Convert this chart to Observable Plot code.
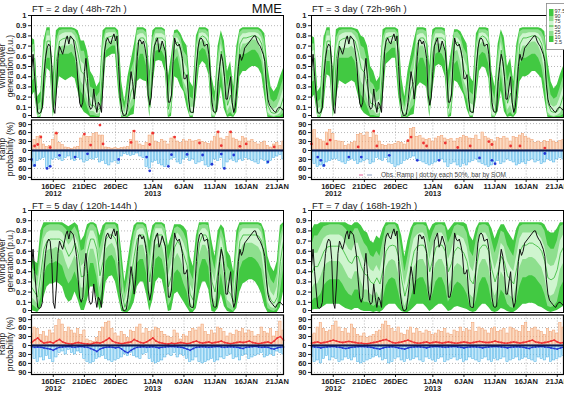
<!DOCTYPE html>
<html><head><meta charset="utf-8">
<script src="https://cdn.jsdelivr.net/npm/d3@7"></script>
<script src="https://cdn.jsdelivr.net/npm/@observablehq/plot@0.6"></script>
<style>
body{margin:0;background:#fff;}
#wrap{position:relative;width:564px;height:409px;overflow:hidden;background:#fff;font-family:"Liberation Sans",Arial,sans-serif;}
#wrap svg{position:absolute;}
</style></head><body><div id="wrap"></div>
<script>
// ---------- time frame ----------
const START = Date.UTC(2012, 11, 12, 12);   // 12 Dec 2012 12UTC
const END = Date.UTC(2013, 0, 22, 0);       // 22 Jan 2013
const tickDates = ["2012-12-16","2012-12-21","2012-12-26","2013-01-01","2013-01-06","2013-01-11","2013-01-16","2013-01-21"];
const tickLabels = ["16DEC\n2012","21DEC","26DEC","1JAN\n2013","6JAN","11JAN","16JAN","21JAN"];
const powerTicks = [0,0.1,0.2,0.3,0.4,0.5,0.6,0.7,0.8,0.9,1];
const probTicks = [-90,-60,-30,0,30,60,90];
const titles = ["FT = 2 day ( 48h-72h )","FT = 3 day ( 72h-96h )","FT = 5 day ( 120h-144h )","FT = 7 day ( 168h-192h )"];
const legendLabels = ["97.5","90","75","50","25","10","2.5"];

// ---------- observed wind power, 6-hourly (p.u.) ----------
const obs = [0.45,0.62,0.40,0.22,0.05,0.04,0.05,0.10,0.40,0.58,
0.68,0.72,0.70,0.52,0.10,0.04,0.25,0.58,0.70,0.66,
0.62,0.68,0.76,0.80,0.72,0.80,0.78,0.76,0.66,0.55,
0.32,0.14,0.10,0.15,0.45,0.58,0.38,0.12,0.08,0.10,
0.28,0.15,0.05,0.15,0.12,0.05,0.35,0.65,0.75,0.78,
0.74,0.72,0.78,0.82,0.75,0.80,0.50,0.20,0.08,0.02,
0.02,0.03,0.15,0.30,0.45,0.35,0.18,0.32,0.60,0.76,
0.76,0.72,0.75,0.68,0.58,0.22,0.12,0.20,0.45,0.70,
0.74,0.78,0.64,0.68,0.75,0.70,0.65,0.45,0.15,0.15,
0.22,0.55,0.78,0.72,0.70,0.72,0.66,0.58,0.38,0.38,
0.42,0.18,0.06,0.05,0.05,0.25,0.50,0.68,0.76,0.78,
0.76,0.70,0.71,0.72,0.62,0.40,0.15,0.06,0.05,0.06,
0.35,0.50,0.62,0.55,0.40,0.18,0.18,0.30,0.40,0.15,
0.05,0.10,0.28,0.50,0.62,0.56,0.60,0.68,0.70,0.72,
0.74,0.76,0.78,0.80,0.80,0.75,0.72,0.70,0.66,0.62,
0.55,0.32,0.18,0.12,0.10,0.08,0.06,0.05,0.08,0.10,
0.10,0.08,0.07];

// ---------- ensemble percentiles, 12-hourly (x100 p.u.) ----------
const ft2_p975=[78,76,20,25,75,88,88,40,85,88,88,88,88,88,87,85,75,75,65,45,40,30,35,85,88,88,88,88,85,35,15,40,55,70,88,88,88,86,45,85,88,88,88,86,40,60,85,86,82,75,70,35,30,80,88,88,88,86,40,25,70,85,75,45,55,30,70,86,88,88,88,88,88,88,86,82,50,30,25,30,40,48];
const ft2_p90=[70,72,12,15,65,85,85,20,75,85,86,86,86,86,85,80,65,65,50,30,28,20,25,75,86,86,86,86,80,20,8,25,45,55,85,86,86,83,30,78,86,86,86,84,25,45,82,83,78,65,60,20,18,70,86,86,86,83,25,15,60,80,62,30,42,18,58,83,86,86,86,86,86,86,83,75,35,18,15,18,28,38];
const ft2_p75=[62,65,6,8,55,80,80,10,65,80,82,83,83,83,80,72,55,52,38,20,18,12,15,65,82,83,83,83,72,12,4,15,35,42,80,82,82,78,18,70,82,82,82,80,15,32,78,78,72,55,48,10,10,60,82,83,82,78,15,8,48,72,50,20,30,10,45,78,82,82,83,83,83,82,78,65,22,10,8,10,18,28];
const ft2_p50=[55,58,3,5,45,75,75,5,55,75,77,78,78,78,75,62,45,42,28,12,12,7,9,55,78,79,80,80,62,6,2,8,25,32,72,78,78,72,10,62,78,78,78,75,8,22,72,74,65,45,38,5,5,50,78,80,78,72,8,4,38,65,40,12,22,5,35,72,78,78,79,80,80,78,72,55,12,5,4,5,10,20];
const ft2_p25=[45,48,1,2,35,68,68,2,45,68,70,70,70,72,68,52,35,30,18,6,6,3,4,45,72,74,75,76,52,2,1,3,15,22,62,72,72,62,4,52,72,72,72,68,3,12,65,68,55,35,28,2,2,40,72,76,74,64,3,1,28,55,30,6,12,2,25,64,72,72,74,76,76,72,64,45,5,2,1,2,4,10];
const ft2_p10=[35,38,0,1,25,58,58,1,35,62,62,62,62,64,58,40,25,20,10,2,2,1,1,35,65,68,70,70,40,1,0,1,8,12,50,62,62,50,1,42,65,66,65,58,1,5,55,60,45,28,20,1,1,30,64,68,66,55,1,0,18,45,20,2,5,1,15,55,62,62,64,66,66,62,55,35,2,1,0,1,1,4];
const ft2_p025=[20,25,0,0,12,48,45,0,20,40,38,36,38,40,38,25,10,5,3,0,0,0,0,20,58,60,62,62,25,0,0,0,2,3,35,38,36,35,0,30,55,56,55,45,0,1,40,38,30,25,10,0,0,20,50,55,52,42,0,0,8,30,8,0,1,0,5,40,45,45,48,50,50,48,42,20,0,0,0,0,0,0];

const ft3_p975=[80,78,25,30,78,88,88,45,86,88,88,88,88,88,87,86,80,78,70,50,45,35,40,86,88,88,88,88,86,40,20,45,60,75,88,88,88,87,50,86,88,88,88,87,45,65,86,86,84,78,72,40,35,82,88,88,88,87,45,30,72,86,78,50,58,35,72,87,88,88,88,88,88,88,87,84,55,35,28,32,42,50];
const ft3_p90=[72,72,15,18,68,85,85,25,78,85,86,86,86,86,85,82,70,68,55,35,32,24,28,78,86,86,86,86,82,25,10,30,48,60,85,86,86,84,35,80,86,86,86,84,30,50,83,84,80,68,62,25,22,72,86,86,86,84,30,18,62,82,65,35,45,22,62,84,86,86,86,86,86,86,84,78,40,22,18,20,30,40];
const ft3_p75=[64,66,8,10,58,80,80,14,68,80,82,83,83,83,80,74,58,55,42,24,20,15,18,68,82,83,83,83,74,15,5,18,38,48,80,82,82,78,22,72,82,82,82,80,18,36,78,78,74,58,50,14,12,62,82,83,82,78,18,10,50,74,52,24,32,12,48,78,82,82,83,83,83,82,78,68,25,12,10,12,20,30];
const ft3_p50=[56,58,4,6,48,75,75,7,58,75,77,78,78,78,75,64,48,44,30,14,13,8,10,56,78,79,80,80,64,7,2,10,28,35,72,78,78,72,12,63,78,78,78,75,9,24,72,74,66,47,40,6,6,52,78,80,78,72,9,5,40,66,42,14,24,6,38,72,78,78,79,80,80,78,72,57,14,6,5,6,12,22];
const ft3_p25=[46,48,2,3,36,66,66,3,46,66,68,68,68,70,66,52,35,30,18,7,7,3,4,44,72,74,74,75,52,3,1,4,16,24,60,70,70,60,5,52,72,72,72,66,3,13,64,66,54,36,28,2,2,40,70,74,72,62,3,1,28,54,30,7,12,2,26,62,70,70,72,74,74,70,62,44,5,2,1,2,4,10];
const ft3_p10=[34,36,0,1,24,55,55,1,34,58,58,58,58,60,55,38,22,18,10,2,2,1,1,32,62,65,68,68,38,1,0,1,8,12,48,58,58,48,1,40,62,64,62,55,1,5,52,56,42,26,18,1,1,28,60,64,62,52,1,0,16,42,18,2,5,1,14,52,58,58,60,62,62,58,50,32,2,1,0,1,1,3];
const ft3_p025=[18,22,0,0,10,42,40,0,18,36,34,32,34,36,34,22,8,4,2,0,0,0,0,18,52,55,58,58,22,0,0,0,2,3,30,34,32,30,0,26,50,52,50,40,0,1,36,34,28,22,8,0,0,18,45,50,48,38,0,0,6,26,6,0,1,0,4,35,40,40,42,45,45,42,38,18,0,0,0,0,0,0];

const ft5_p975=[55,50,48,80,88,88,88,88,88,88,88,86,84,86,88,85,70,75,86,88,88,86,75,85,88,88,88,88,86,60,30,50,70,85,88,88,88,86,70,85,88,88,88,86,65,75,86,86,86,84,80,55,45,75,88,88,88,88,70,55,80,86,82,60,55,40,80,88,88,88,88,88,88,88,87,80,55,45,40,50,85,88];
const ft5_p90=[45,40,35,65,82,85,86,86,86,86,85,82,78,80,84,78,60,62,80,86,86,82,62,75,86,86,86,86,80,45,18,35,58,78,86,86,86,82,55,78,86,86,86,82,50,62,82,84,82,78,70,40,32,62,85,86,86,85,55,42,68,82,72,45,40,28,68,85,86,86,86,86,86,86,84,70,42,32,28,38,75,86];
const ft5_p75=[35,30,25,50,72,78,80,80,80,80,78,72,66,70,76,68,45,48,70,80,80,72,48,62,80,82,82,80,70,30,10,22,45,66,80,82,82,74,42,68,82,82,82,74,36,48,74,78,74,68,58,28,20,50,78,82,82,78,42,30,55,74,60,32,28,18,55,78,82,82,82,82,82,82,78,60,30,20,16,25,62,80];
const ft5_p50=[25,20,15,38,62,70,72,72,72,72,70,62,55,60,68,58,35,36,60,72,72,62,36,50,72,76,76,72,60,20,5,14,34,55,72,76,76,64,30,56,76,76,76,65,25,36,64,70,65,56,46,18,12,38,68,76,76,70,30,20,42,64,48,22,18,10,42,70,76,76,76,76,76,75,70,48,20,12,9,15,50,70];
const ft5_p25=[15,12,8,25,50,60,62,62,64,62,60,50,42,48,56,45,24,24,48,62,62,50,24,38,62,66,68,62,46,12,2,7,22,42,62,66,66,52,18,44,66,68,66,52,14,24,52,58,52,42,34,9,6,26,56,66,66,58,18,10,30,52,35,12,9,4,30,58,66,68,68,68,66,64,58,36,10,5,4,8,36,58];
const ft5_p10=[8,6,3,14,35,45,48,48,50,48,45,35,28,32,40,30,12,12,32,48,48,35,12,24,50,55,56,50,32,5,1,3,12,28,48,52,52,38,8,30,52,55,52,38,6,12,38,42,38,28,20,4,2,14,42,52,52,44,8,4,16,38,20,5,3,1,16,42,50,52,54,54,52,48,42,22,4,2,1,3,20,42];
const ft5_p025=[2,1,0,4,15,25,28,28,30,28,25,15,10,12,20,12,2,2,12,25,25,15,2,8,30,35,36,30,15,1,0,0,3,10,25,30,30,18,1,12,30,34,32,18,1,2,18,20,15,10,5,0,0,4,20,30,30,22,1,0,4,18,6,1,0,0,4,20,28,30,32,32,30,25,18,6,0,0,0,0,5,20];

const ft7_p975=[80,86,86,88,88,88,88,88,88,88,88,88,86,85,88,88,85,80,78,70,68,75,72,82,88,88,88,88,86,75,55,70,82,88,88,88,88,88,80,86,88,88,88,88,80,84,88,88,88,88,86,75,70,82,88,88,88,88,82,72,80,86,86,80,75,70,82,88,88,88,88,88,88,88,88,86,80,78,78,82,88,88];
const ft7_p90=[65,75,75,80,84,85,86,86,86,86,85,82,78,76,82,82,75,68,64,56,54,60,55,70,84,86,86,86,80,62,40,55,72,84,86,86,86,84,68,78,85,86,86,84,68,75,84,86,85,84,78,60,55,72,85,86,86,84,70,58,68,80,78,66,60,55,72,84,86,86,86,86,86,86,85,80,66,62,62,70,84,86];
const ft7_p75=[50,58,58,65,72,75,76,76,76,76,74,68,62,60,68,68,58,50,48,42,40,46,40,55,72,76,78,76,68,46,26,40,58,72,76,78,78,72,52,64,75,78,78,72,52,60,72,76,74,72,64,45,40,56,74,78,78,72,55,42,52,68,64,50,44,40,56,72,78,78,78,78,78,76,72,64,48,45,46,54,70,76];
const ft7_p50=[38,45,45,52,60,64,65,65,65,65,62,56,50,48,55,55,45,38,36,30,28,34,28,42,60,65,66,65,55,32,16,28,45,60,65,66,66,60,40,52,64,66,66,60,40,48,60,64,62,58,50,32,28,44,62,66,66,60,42,30,40,55,50,36,32,28,44,60,66,66,68,68,66,64,60,50,34,32,34,42,58,64];
const ft7_p25=[22,28,28,35,44,48,50,50,50,50,46,40,34,32,40,40,30,22,22,18,16,20,14,26,44,50,52,50,38,18,6,14,30,44,50,52,52,44,24,36,48,52,52,44,24,32,44,48,46,42,34,18,14,28,46,52,52,44,26,16,24,40,34,20,16,14,28,44,52,52,54,54,52,48,44,34,18,16,18,26,42,48];
const ft7_p10=[10,14,14,18,26,30,32,32,32,32,28,22,18,16,22,22,14,10,10,8,6,8,6,12,26,32,34,32,20,6,2,5,14,26,32,34,34,26,10,18,30,34,34,26,10,16,26,30,28,24,18,6,4,12,28,34,34,26,10,5,10,22,18,8,5,4,12,26,34,34,36,36,34,30,26,18,6,5,6,10,24,30];
const ft7_p025=[2,3,3,4,6,8,8,8,8,8,6,4,3,2,4,4,2,1,1,1,0,1,0,2,6,8,8,8,4,1,0,0,2,5,8,8,8,5,1,3,6,8,8,5,1,2,5,6,5,4,3,1,0,1,5,8,8,5,1,0,1,4,3,1,0,0,2,5,8,8,9,9,8,6,5,3,1,0,1,2,4,6];

// ---------- ramp probability (%), 12-hourly ----------
const ft2_up=[15,35,45,48,20,12,15,35,60,25,18,10,8,5,10,12,40,50,45,45,55,58,50,50,10,8,6,8,5,8,10,12,35,65,30,20,15,25,50,60,30,25,35,30,20,40,45,30,25,35,30,35,30,32,35,28,25,22,30,45,62,40,35,45,62,40,35,30,45,40,30,35,25,20,25,30,15,10,20,25,15,30];
const ft2_down=[40,55,35,30,25,58,55,30,25,30,35,25,20,30,35,25,30,40,35,28,30,25,40,35,45,50,40,35,45,20,12,15,18,15,10,20,25,55,60,40,35,45,50,55,50,30,25,40,45,30,25,35,30,45,40,35,50,55,50,30,35,25,60,40,30,35,40,30,35,25,30,35,40,45,30,35,45,35,25,20,15,30];
const ft3_up=[65,68,40,35,30,60,68,55,32,30,28,15,20,25,30,52,55,48,60,42,62,50,30,18,15,20,18,22,28,25,20,30,72,75,45,48,40,35,38,30,40,45,48,40,35,38,30,38,42,48,45,40,38,50,35,60,45,40,35,30,42,38,45,40,30,45,42,50,55,45,40,35,25,30,25,32,28,35,30,25,32,35];
const ft3_down=[35,45,55,50,55,40,35,30,28,35,40,45,35,30,35,45,40,35,30,45,40,25,30,35,25,40,45,55,50,45,35,30,25,20,30,35,40,45,50,45,40,35,30,40,55,45,40,50,55,45,50,40,35,30,40,45,50,55,50,40,35,45,40,30,35,40,50,45,40,45,35,30,40,35,45,40,30,35,40,30,25,30];
const ft5_up=[40,60,55,35,45,30,50,40,65,85,70,45,60,50,40,55,35,50,20,15,12,25,45,60,75,80,55,40,30,45,35,25,50,45,60,70,40,55,45,50,60,55,45,35,30,25,50,40,20,35,30,45,55,50,60,70,45,35,50,40,60,55,45,30,40,35,50,45,55,40,50,45,30,35,60,45,40,55,30,45,80,50];
const ft5_down=[30,45,55,40,50,35,45,55,40,25,20,30,15,25,30,20,25,45,55,60,55,45,40,35,45,50,55,50,45,40,30,35,25,35,40,45,30,25,45,55,60,55,50,40,30,35,25,40,30,35,45,55,50,40,55,60,55,50,45,55,50,40,45,35,30,45,40,50,35,30,45,40,35,30,25,40,35,30,35,20,25,30];
const ft7_up=[35,40,60,75,55,45,50,65,80,60,45,55,40,70,55,35,30,40,25,30,35,45,50,70,80,65,55,45,60,40,35,50,60,40,55,45,40,50,45,35,40,50,45,55,40,35,50,45,60,45,55,50,75,45,60,55,50,40,55,60,45,50,55,40,60,55,50,45,65,75,45,55,60,50,45,35,55,45,50,40,75,60];
const ft7_down=[40,55,50,60,45,35,50,40,45,55,50,40,45,50,40,55,60,55,50,45,40,35,40,50,45,60,55,45,40,50,55,45,50,45,40,50,55,40,45,50,55,45,40,55,50,45,40,50,45,55,50,40,45,50,55,45,40,50,55,45,50,45,40,55,50,45,40,50,45,40,45,50,55,40,45,50,40,55,50,45,40,35];

// dense "each member" ramp dots in the long lead times (shown as a line of dots)
const ft5_upDots=[10,18,25,15,8,10,12,8,15,20,12,8,6,5,8,10,8,6,5,4,8,10,8,12,18,25,15,10,8,6,8,10,12,20,15,10,8,12,18,25,15,10,8,6,5,8,6,8,10,8,6,8,12,15,10,8,10,12,8,10,12,15,10,8,6,8,10,12,10,12,15,10,8,6,8,10,12,8,15,25,30,18];
const ft5_downDots=[4,6,5,6,8,10,12,16,10,6,5,4,3,5,6,4,3,5,6,10,14,20,12,8,6,5,6,8,6,12,20,24,16,10,6,5,4,6,5,4,6,8,6,5,4,3,4,5,6,8,12,16,10,6,5,4,5,6,5,4,3,5,6,5,4,5,6,8,10,6,5,4,3,5,6,5,6,10,12,8,6,5];
const ft7_upDots=[8,10,12,8,10,12,15,18,15,12,10,12,14,12,10,8,8,6,6,8,10,12,15,18,20,15,10,8,10,12,15,18,14,10,8,8,10,12,8,10,12,10,8,10,12,10,8,8,10,12,10,8,10,12,14,12,10,10,12,15,12,10,8,8,10,12,10,8,10,12,15,18,12,10,8,10,12,15,18,12,8,10];
const ft7_downDots=[4,5,6,8,6,5,4,3,5,6,8,10,8,6,5,4,3,4,5,6,8,10,12,8,6,5,4,6,8,10,12,8,6,5,4,5,6,8,5,4,3,4,5,6,5,4,3,5,6,8,6,5,4,5,6,8,6,5,4,3,4,5,6,8,6,5,4,5,6,8,10,6,5,4,3,5,6,8,10,12,8,6];

// sparse ramp dots in the short lead times: 12-h slot number and probability
const ft2_upDotSlot=[1,2,3,6,8,17,19,22,23,32,33,38,39,46,54,60,61,64,67,69,78];
const ft2_upDotVal=[15,20,45,10,58,55,18,85,22,27,65,20,58,45,25,62,16,62,14,22,12];
const ft2_dnDotSlot=[0,1,5,6,9,14,18,28,37,38,44,45,50,55,58,61,62,65,76];
const ft2_dnDotVal=[30,50,60,53,16,22,11,30,22,68,53,14,13,15,46,12,60,15,38];
const ft3_upDotSlot=[0,5,6,15,20,21,31,32,36,37,43,47,51,57,58,64,67,75];
const ft3_upDotVal=[22,22,35,12,65,15,33,45,25,15,25,10,15,30,20,15,15,8];
const ft3_dnDotSlot=[2,3,4,12,16,25,34,41,54,58,59,75];
const ft3_dnDotVal=[22,33,50,22,22,16,33,33,25,33,44,10];

// ---------- styling ----------
const C_OUT="#42c942", C_MID="#8edf8e", C_IN="#cff5cf", C_MED="#33b833";
const UP_FILL="#fbdcc4", UP_STROKE="#f0a070", DN_FILL="#c6e9fa", DN_STROKE="#4fb2e6";
const RED="#ee3333", BLUE="#2236d6";
const H12 = 12*3600e3, H6 = 6*3600e3;
const slot = j => new Date(START + j*H12);
const xDomain = [new Date(START), new Date(END)];
const tickDateObjs = tickDates.map(d => new Date(d + "T00:00:00Z"));
const tickMap = new Map(tickDateObjs.map((d,i)=>[+d, tickLabels[i]]));
const FONT = '"Liberation Sans", Arial, sans-serif';

const panels = [
  {c:0, r:0, P:[ft2_p025,ft2_p10,ft2_p25,ft2_p50,ft2_p75,ft2_p90,ft2_p975], up:ft2_up, dn:ft2_down,
   upDots:ft2_upDotSlot.map((s,i)=>({t:slot(s), v:ft2_upDotVal[i]})), dnDots:ft2_dnDotSlot.map((s,i)=>({t:slot(s), v:-ft2_dnDotVal[i]})), dense:false},
  {c:1, r:0, P:[ft3_p025,ft3_p10,ft3_p25,ft3_p50,ft3_p75,ft3_p90,ft3_p975], up:ft3_up, dn:ft3_down,
   upDots:ft3_upDotSlot.map((s,i)=>({t:slot(s), v:ft3_upDotVal[i]})), dnDots:ft3_dnDotSlot.map((s,i)=>({t:slot(s), v:-ft3_dnDotVal[i]})), dense:false},
  {c:0, r:1, P:[ft5_p025,ft5_p10,ft5_p25,ft5_p50,ft5_p75,ft5_p90,ft5_p975], up:ft5_up, dn:ft5_down,
   upDots:ft5_upDots.map((v,j)=>({t:slot(j), v})), dnDots:ft5_downDots.map((v,j)=>({t:slot(j), v:-v})), dense:true},
  {c:1, r:1, P:[ft7_p025,ft7_p10,ft7_p25,ft7_p50,ft7_p75,ft7_p90,ft7_p975], up:ft7_up, dn:ft7_down,
   upDots:ft7_upDots.map((v,j)=>({t:slot(j), v})), dnDots:ft7_downDots.map((v,j)=>({t:slot(j), v:-v})), dense:true},
];

const obsRows = obs.map((v,i)=>({t:new Date(START + i*H6), v}));
const wrap = document.getElementById("wrap");
const axisStyle = {fontFamily: FONT, fontSize: "7.5px", fontWeight: "bold", color: "#222", background: "transparent", overflow: "visible"};
const fmtPower = v => v === 0 ? "0" : v === 1 ? "1" : v.toFixed(1);

panels.forEach(p => {
  const ox = p.c ? 280 : 0, oy = p.r ? 195 : 0;
  const [a,b,c,m,d,e,f] = p.P;
  const rows = m.map((_,j)=>({t:slot(j), a:a[j]/100, b:b[j]/100, c:c[j]/100, m:m[j]/100, d:d[j]/100, e:e[j]/100, f:f[j]/100}));

  const top = Plot.plot({
    width: 284, height: 118, marginLeft: 31, marginRight: 1, marginTop: 15, marginBottom: 1,
    style: axisStyle,
    x: {type: "utc", domain: xDomain, axis: null},
    y: {domain: [0, 1], axis: null},
    marks: [
      Plot.ruleY(powerTicks.slice(1, -1), {stroke: "#999", strokeDasharray: "1,2", strokeWidth: 0.7}),
      Plot.areaY(rows, {x: "t", y1: "a", y2: "f", fill: C_OUT}),
      Plot.areaY(rows, {x: "t", y1: "b", y2: "e", fill: C_MID}),
      Plot.areaY(rows, {x: "t", y1: "c", y2: "d", fill: C_IN}),
      Plot.line(rows, {x: "t", y: "m", stroke: C_MED, strokeWidth: 0.8}),
      Plot.line(obsRows, {x: "t", y: "v", stroke: "#111", strokeWidth: 1}),
      Plot.axisY(powerTicks.slice(1), {tickSize: 3, tickPadding: 2, label: null, tickFormat: fmtPower}),
      Plot.axisY(powerTicks.slice(0, 1), {tickSize: 3, tickPadding: 2, label: null, tickFormat: fmtPower, dy: -2}),
      Plot.frame({stroke: "#000", strokeWidth: 1})
    ]
  });
  top.style.left = ox + "px"; top.style.top = oy + "px";
  wrap.appendChild(top);

  const bars = p.up.map((u,j)=>({x1: new Date(START + j*H12 - H6), x2: new Date(START + j*H12 + H6), up: u, dn: -p.dn[j]}));
  const probMarks = [
    Plot.ruleY([-90,-60,-30,30,60,90], {stroke: "#999", strokeDasharray: "1,2", strokeWidth: 0.7}),
    Plot.ruleX(tickDateObjs, {stroke: "#999", strokeDasharray: "1,2", strokeWidth: 0.7}),
    Plot.rect(bars, {x1: "x1", x2: "x2", y1: 0, y2: "up", fill: UP_FILL, stroke: UP_STROKE, strokeWidth: 0.55, insetLeft: 0.4, insetRight: 0.4, clip: true}),
    Plot.rect(bars, {x1: "x1", x2: "x2", y1: 0, y2: "dn", fill: DN_FILL, stroke: DN_STROKE, strokeWidth: 0.55, insetLeft: 0.4, insetRight: 0.4, clip: true}),
  ];
  if (p.dense) {
    probMarks.push(
      Plot.line(p.upDots, {x: "t", y: "v", stroke: RED, strokeWidth: 1.3}),
      Plot.line(p.dnDots, {x: "t", y: "v", stroke: BLUE, strokeWidth: 1.1}),
      Plot.dot(p.upDots, {x: "t", y: "v", r: 0.9, fill: RED}),
      Plot.dot(p.dnDots, {x: "t", y: "v", r: 0.9, fill: BLUE})
    );
  }
  probMarks.push(Plot.ruleY([0], {stroke: "#0c1850", strokeWidth: 2}));
  if (!p.dense) {
    probMarks.push(
      Plot.dot(p.upDots, {x: "t", y: "v", r: 1.4, fill: RED}),
      Plot.dot(p.dnDots, {x: "t", y: "v", r: 1.4, fill: BLUE})
    );
  }
  probMarks.push(
    Plot.axisY(probTicks.slice(0, -1), {tickSize: 3, tickPadding: 2, label: null, tickFormat: v => Math.abs(v)}),
    Plot.axisY(probTicks.slice(-1), {tickSize: 3, tickPadding: 2, label: null, tickFormat: v => Math.abs(v), dy: 1}),
    Plot.axisX(tickDateObjs, {tickSize: 3, tickPadding: 1, label: null, tickFormat: v => tickMap.get(+v), lineHeight: 1.0}),
    Plot.frame({stroke: "#000", strokeWidth: 1.2})
  );
  const prob = Plot.plot({
    width: 284, height: 91, marginLeft: 31, marginRight: 1, marginTop: 9.5, marginBottom: 22,
    style: axisStyle,
    x: {type: "utc", domain: xDomain, axis: null},
    y: {domain: [-97, 102], axis: null},
    marks: probMarks
  });
  prob.style.left = ox + "px"; prob.style.top = (oy + 110) + "px";
  wrap.appendChild(prob);
});

// ---------- overlay text: titles, axis titles, legends ----------
const ov = d3.select(wrap).append("svg").attr("width", 564).attr("height", 409)
  .style("left", "0px").style("top", "0px").style("font-family", FONT);
const titlePos = [[32, 12], [312, 12], [32, 208.5], [312, 208.5]];
titles.forEach((t, i) => ov.append("text").attr("x", titlePos[i][0]).attr("y", titlePos[i][1])
  .attr("font-size", 9.5).attr("fill", "#222").style("white-space", "pre").text(t));
ov.append("text").attr("x", 282).attr("y", 13).attr("text-anchor", "end").attr("font-size", 13).attr("fill", "#111").text("MME");

[[0, 66, "Wind power", "generation (p.u.)"], [0, 149, "Ramp", "probability (%)"],
 [195, 66, "Wind power", "generation (p.u.)"], [195, 149, "Ramp", "probability (%)"]].forEach(([dy, cy, l1, l2]) => {
  const g = ov.append("g").attr("transform", `translate(0,${cy + dy}) rotate(-90)`);
  g.append("text").attr("x", 0).attr("y", 4.5).attr("text-anchor", "middle").attr("font-size", 8.5).attr("fill", "#222").text(l1);
  g.append("text").attr("x", 0).attr("y", 13).attr("text-anchor", "middle").attr("font-size", 8.5).attr("fill", "#222").text(l2);
});

// percentile colour key (top right, partly cut by the page edge)
const key = ov.append("g");
key.append("rect").attr("x", 546.5).attr("y", 3.5).attr("width", 24).attr("height", 46).attr("fill", "#fff").attr("stroke", "#888").attr("stroke-width", 0.8);
const keyBlocks = [[9, 16, C_OUT], [16, 21, C_MID], [21, 26, C_IN], [26, 31, C_IN], [31, 36, C_MID], [36, 42, C_OUT]];
keyBlocks.forEach(([y0, y1, col]) => key.append("rect").attr("x", 549).attr("y", y0).attr("width", 4.5).attr("height", y1 - y0).attr("fill", col));
key.append("line").attr("x1", 549).attr("x2", 553.5).attr("y1", 26).attr("y2", 26).attr("stroke", C_MED).attr("stroke-width", 1);
const keyY = [10.5, 16, 21, 26.5, 31.5, 36.5, 41.5];
legendLabels.forEach((l, i) => key.append("text").attr("x", 554.5).attr("y", keyY[i] + 2).attr("font-size", 5.5).attr("fill", "#333").text(l));

// observed-ramp key in the FT=3 probability panel
ov.append("line").attr("x1", 359).attr("x2", 363).attr("y1", 175).attr("y2", 175).attr("stroke", "#e8609a").attr("stroke-width", 1);
ov.append("line").attr("x1", 367).attr("x2", 372).attr("y1", 175).attr("y2", 175).attr("stroke", "#8a9cc0").attr("stroke-width", 1);
ov.append("text").attr("x", 381).attr("y", 177.3).attr("font-size", 6.5).attr("fill", "#444").text("Obs. Ramp | dot:by each 50%, bar by SOM");
</script>
</body></html>
